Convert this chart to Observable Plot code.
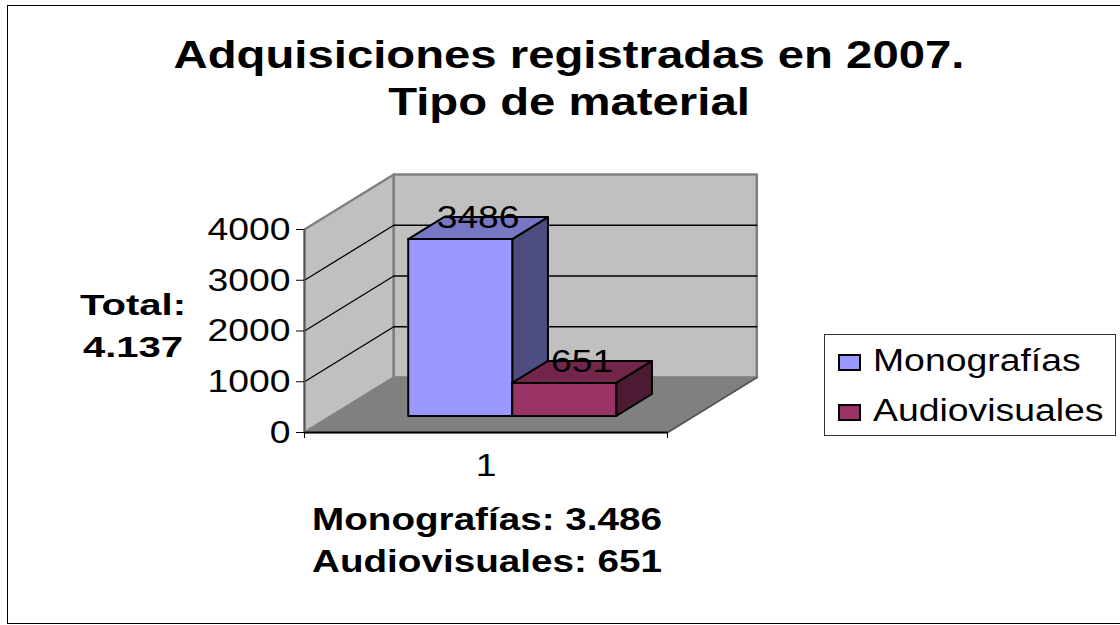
<!DOCTYPE html>
<html lang="es">
<head>
<meta charset="utf-8">
<script src="https://cdn.jsdelivr.net/npm/d3@7"></script>
<script src="https://cdn.jsdelivr.net/npm/@observablehq/plot@0.6"></script>
<style>
  html, body { margin: 0; padding: 0; background: #fff; }
  body { width: 1120px; height: 625px; overflow: hidden; position: relative; font-family: "Liberation Sans", Arial, sans-serif; color: #000; }
  #frame { position: absolute; left: 7px; top: 5px; width: 1200px; height: 619px; border: 1.5px solid #000; box-sizing: border-box; }
  #chart { position: absolute; left: 0; top: 0; }
  .t { position: absolute; text-align: center; font-weight: bold; white-space: nowrap; }
  #title { left: 69px; width: 1000px; top: 32px; font-size: 38px; line-height: 47px; transform: scaleX(1.244); }
  #total { left: 33px; width: 200px; top: 284px; font-size: 29px; line-height: 42px; transform: scaleX(1.38); }
  #caption { left: 287px; width: 400px; top: 498px; font-size: 32px; line-height: 42px; transform: scaleX(1.207); }
  #legend { position: absolute; left: 824px; top: 334px; width: 292px; height: 102px; border: 1px solid #333; box-sizing: border-box; background: #fff; }
  .sw { position: absolute; left: 13px; width: 23px; height: 17px; border: 2px solid #000; box-sizing: border-box; }
  .lb { position: absolute; left: 48px; font-size: 31px; line-height: 36px; white-space: nowrap; transform: scaleX(1.205); transform-origin: left center; }
</style>
</head>
<body>
<div id="frame"></div>
<div id="chart"></div>
<div class="t" id="title"></div>
<div class="t" id="total"></div>
<div class="t" id="caption"></div>
<div id="legend"></div>
<script>
const titleLines = ["Adquisiciones registradas en 2007.", "Tipo de material"];
const totalLines = ["Total:", "4.137"];
const captionLines = ["Monografías: 3.486", "Audiovisuales: 651"];
const categories = ["1"];
const seriesNames = ["Monografías", "Audiovisuales"];
const seriesValues = [3486, 651];
const frontColors = ["#9999ff", "#993366"];
const topColors = ["#7777c4", "#732649"];
const sideColors = ["#4d4d80", "#4d1a33"];
const valueTicks = [0, 1000, 2000, 3000, 4000];

// Oblique projection of the 3-D box: u across the category, v the value, d the depth (0 front, 1 back)
const depthU = 0.246, depthV = 1084;
const P = (u, v, d) => ({x: u + d * depthU, y: v + d * depthV});
const poly = (pts, o) => Plot.line([...pts, pts[0]].map(p => P(...p)), {x: "x", y: "y", curve: "linear", ...o});

const vMax = d3.max(valueTicks);
const walls = [
  poly([[0,0,0],[0,vMax,0],[0,vMax,1],[0,0,1]], {fill: "#c0c0c0", stroke: "#808080", strokeWidth: 2.5}),
  poly([[0,0,1],[0,vMax,1],[1,vMax,1],[1,0,1]], {fill: "#c0c0c0", stroke: "#808080", strokeWidth: 2.5}),
  poly([[0,0,0],[0,0,1],[1,0,1],[1,0,0]], {fill: "#808080", stroke: "#808080", strokeWidth: 1.5})
];
const grid = valueTicks.slice(1, -1).map(v =>
  Plot.line([P(0,v,0), P(0,v,1), P(1,v,1)], {x: "x", y: "y", stroke: "#000", strokeWidth: 1.3})
);
const frontEdges = [
  Plot.line([P(0,0,0), P(1,0,0)], {x: "x", y: "y", stroke: "#000", strokeWidth: 2}),
  Plot.line([P(1,0,0), P(1,0,1)], {x: "x", y: "y", stroke: "#555", strokeWidth: 1.5}),
  Plot.line([P(0,0,0), P(0,vMax,0)], {x: "x", y: "y", stroke: "#555", strokeWidth: 1.5})
];

const u0 = 0.212, bw = 0.2865, d0 = 0.3, d1 = 0.7;
const bars = seriesValues.flatMap((v, i) => {
  const a = u0 + i * bw, b = a + bw;
  const s = {stroke: "#000", strokeWidth: 2, strokeLinejoin: "round"};
  return [
    poly([[b,0,d0],[b,v,d0],[b,v,d1],[b,0,d1]], {fill: sideColors[i], ...s}),
    poly([[a,v,d0],[a,v,d1],[b,v,d1],[b,v,d0]], {fill: topColors[i], ...s}),
    poly([[a,0,d0],[a,v,d0],[b,v,d0],[b,0,d0]], {fill: frontColors[i], ...s})
  ];
});
const labels = seriesValues.map((v, i) => {
  const p = P(u0 + (i + 0.5) * bw, v, 0.5);
  return Plot.text([p], {x: "x", y: "y", text: () => String(v), fontSize: 32, dy: -10, fill: "#000"});
});

const svg = Plot.plot({
  width: 1120, height: 625,
  marginLeft: 304, marginRight: 453, marginTop: 229, marginBottom: 193,
  style: {background: "transparent", fontFamily: "'Liberation Sans', Arial, sans-serif", overflow: "visible"},
  x: {domain: [0, 1], axis: null},
  y: {domain: [0, vMax], axis: null},
  marks: [
    ...walls, ...grid, ...frontEdges,
    Plot.axisY({ticks: valueTicks, tickSize: 8, tickPadding: 6, fontSize: 32, label: null, stroke: "#000", fill: "#000", tickFormat: d => String(d)}),
    Plot.axisX({ticks: [0, 1], tickSize: 6, tickFormat: () => "", label: null, stroke: "#000"}),
    Plot.axisX({ticks: [0.5], tickSize: 0, tickPadding: 21, fontSize: 32, label: null, fill: "#000", tickFormat: () => categories[0]}),
    ...bars, ...labels
  ]
});
document.getElementById("chart").append(svg);
// The reference's type is drawn wider than the installed face: stretch each chart text to match.
d3.select(svg).selectAll("text").each(function() {
  const n = this.getComputedTextLength();
  if (n > 0) d3.select(this).attr("textLength", n * 1.165).attr("lengthAdjust", "spacingAndGlyphs");
});

const fill = (id, lines) => { document.getElementById(id).innerHTML = lines.join("<br>"); };
fill("title", titleLines); fill("total", totalLines); fill("caption", captionLines);
const lg = document.getElementById("legend");
seriesNames.forEach((n, i) => {
  const sw = document.createElement("div"); sw.className = "sw"; sw.style.background = frontColors[i]; sw.style.top = (19 + i * 50) + "px";
  const lb = document.createElement("div"); lb.className = "lb"; lb.textContent = n; lb.style.top = (8 + i * 50) + "px";
  lg.append(sw, lb);
});
</script>
</body>
</html>
